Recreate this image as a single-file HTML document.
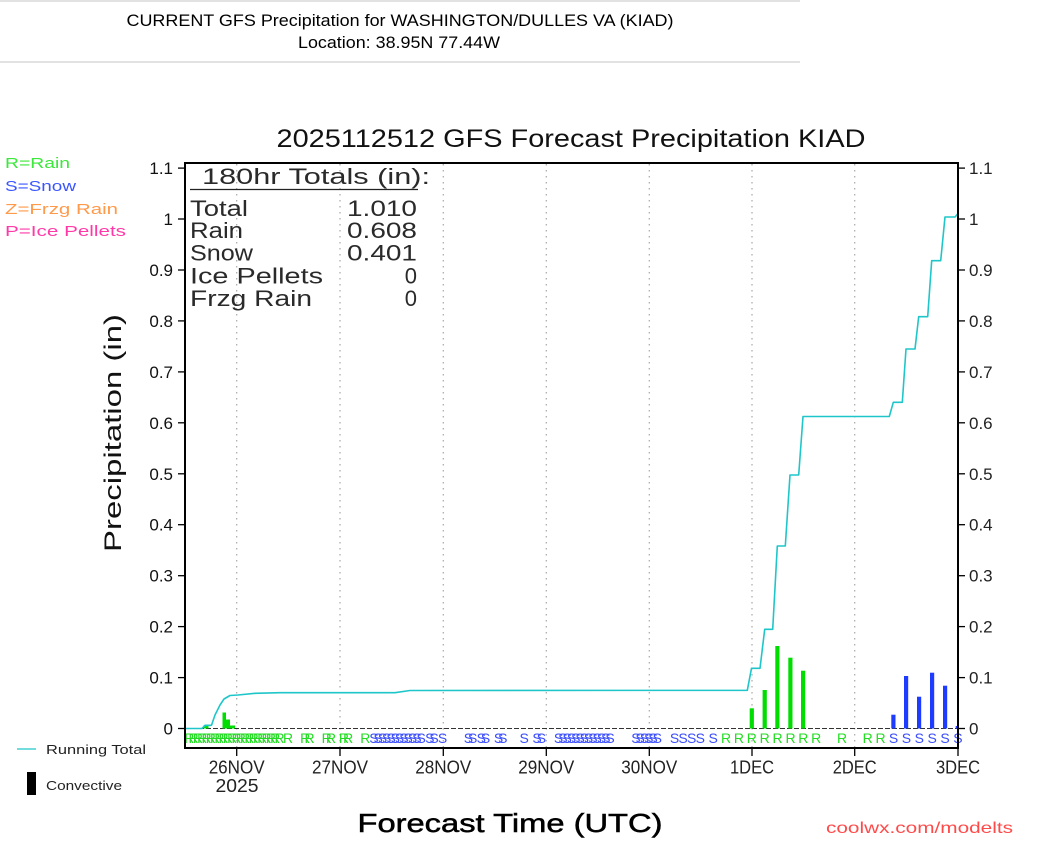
<!DOCTYPE html>
<html><head><meta charset="utf-8"><style>
html,body{margin:0;padding:0;background:#fff;}
svg{display:block;}
</style></head><body>
<svg width="1042" height="855" viewBox="0 0 1042 855" xmlns="http://www.w3.org/2000/svg" font-family="Liberation Sans, DejaVu Sans, sans-serif">
<rect x="0" y="0" width="1042" height="855" fill="#fff"/>
<!-- header -->
<rect x="0" y="0" width="800" height="2" fill="#e2e2e2"/>
<rect x="0" y="61" width="800" height="2" fill="#e2e2e2"/>
<text x="400" y="26" font-size="17" text-anchor="middle" fill="#000" textLength="547" lengthAdjust="spacingAndGlyphs">CURRENT GFS Precipitation for WASHINGTON/DULLES VA (KIAD)</text>
<text x="399" y="48" font-size="17" text-anchor="middle" fill="#000" textLength="202" lengthAdjust="spacingAndGlyphs">Location: 38.95N 77.44W</text>

<!-- chart title -->
<text x="571" y="147" font-size="25" text-anchor="middle" fill="#111" textLength="589" lengthAdjust="spacingAndGlyphs">2025112512 GFS Forecast Precipitation KIAD</text>

<!-- left legend -->
<text x="5" y="168" font-size="15" fill="#3be83b" textLength="65" lengthAdjust="spacingAndGlyphs">R=Rain</text>
<text x="5" y="191" font-size="15" fill="#3a55ff" textLength="71" lengthAdjust="spacingAndGlyphs">S=Snow</text>
<text x="5" y="214" font-size="15" fill="#ff9a4a" textLength="113" lengthAdjust="spacingAndGlyphs">Z=Frzg Rain</text>
<text x="5" y="236" font-size="15" fill="#ff3aa8" textLength="121" lengthAdjust="spacingAndGlyphs">P=Ice Pellets</text>

<!-- gridlines -->
<g stroke="#a8a8a8" stroke-width="1.2" stroke-dasharray="1.5,4.5">
<line x1="236.7" y1="164" x2="236.7" y2="747"/>
<line x1="340" y1="164" x2="340" y2="747"/>
<line x1="443.3" y1="164" x2="443.3" y2="747"/>
<line x1="546.3" y1="164" x2="546.3" y2="747"/>
<line x1="649.3" y1="164" x2="649.3" y2="747"/>
<line x1="752" y1="164" x2="752" y2="747"/>
<line x1="854.7" y1="164" x2="854.7" y2="747"/>
</g>

<!-- totals box -->
<g fill="#2a2a2a">
<text x="202" y="184" font-size="22" textLength="228" lengthAdjust="spacingAndGlyphs">180hr Totals (in):</text>
<line x1="190" y1="189.5" x2="418" y2="189.5" stroke="#222" stroke-width="1.2"/>
<text x="190" y="216" font-size="22" textLength="58" lengthAdjust="spacingAndGlyphs">Total</text>
<text x="190" y="238" font-size="22" textLength="53" lengthAdjust="spacingAndGlyphs">Rain</text>
<text x="190" y="260.5" font-size="22" textLength="63" lengthAdjust="spacingAndGlyphs">Snow</text>
<text x="190" y="283.5" font-size="22" textLength="133" lengthAdjust="spacingAndGlyphs">Ice Pellets</text>
<text x="190" y="306" font-size="22" textLength="122" lengthAdjust="spacingAndGlyphs">Frzg Rain</text>
<text x="417" y="216" font-size="22" text-anchor="end" textLength="70" lengthAdjust="spacingAndGlyphs">1.010</text>
<text x="417" y="238" font-size="22" text-anchor="end" textLength="70" lengthAdjust="spacingAndGlyphs">0.608</text>
<text x="417" y="260.5" font-size="22" text-anchor="end" textLength="70" lengthAdjust="spacingAndGlyphs">0.401</text>
<text x="417" y="283.5" font-size="22" text-anchor="end">0</text>
<text x="417" y="306" font-size="22" text-anchor="end">0</text>
</g>

<!-- zero line -->
<line x1="185" y1="728.5" x2="958" y2="728.5" stroke="#333" stroke-width="1" stroke-dasharray="5,2"/>

<!-- bars -->
<g fill="#00dd00">
<rect x="203.5" y="725.3" width="5" height="3.2"/>
<rect x="222.5" y="712.5" width="3.5" height="16"/>
<rect x="226" y="719.5" width="4" height="9"/>
<rect x="230" y="725.5" width="5" height="3"/>
<rect x="749.7" y="708.3" width="4.2" height="20.2"/>
<rect x="762.6" y="690" width="4.2" height="38.5"/>
<rect x="775.3" y="646" width="4.2" height="82.5"/>
<rect x="788.3" y="657.7" width="4.2" height="70.8"/>
<rect x="801" y="670.7" width="4.2" height="57.8"/>
</g>
<g fill="#1e3cff">
<rect x="891.3" y="714.7" width="4.2" height="13.8"/>
<rect x="904" y="676" width="4.2" height="52.5"/>
<rect x="917" y="696.7" width="4.2" height="31.8"/>
<rect x="930" y="672.7" width="4.2" height="55.8"/>
<rect x="943" y="685.7" width="4.2" height="42.8"/>
<rect x="955.7" y="726" width="2.3" height="2.5"/>
</g>

<!-- running total -->
<polyline fill="none" stroke="#1fc6c9" stroke-width="1.6" stroke-linejoin="round" points="185,728.5 202,728.5 205,725.3 211.5,725.3 215,715 220,705 224,699 230,695.5 238,695 255,693.3 280,692.7 395,692.7 410,690.5 747.3,690.3 751.5,668.3 760,668.3 764.7,629.3 772.7,629.3 777.3,546 785.3,546 790,475 798.7,475 803,416.5 889.3,416.5 893.3,402.3 902.3,402.3 906,349 915,349 918.7,316.7 927.7,316.7 931.7,260.7 940.7,260.7 945,217 955,217 958,213.5"/>

<!-- precip type letters -->
<text y="743" font-size="14" fill="#22dd22" text-anchor="middle" x="189.3 193.6 197.9 202.2 206.5 210.8 215.1 219.4 223.6 227.9 232.2 236.5 240.8 245.1 249.4 253.7 258.0 262.3 266.6 270.9 275.2 279.5 288.1 305.2 309.5 326.7 331.0 343.9 348.2 365.3">RRRRRRRRRRRRRRRRRRRRRRRRRRRRRR</text>
<text y="743" font-size="14" fill="#3a4dff" text-anchor="middle" x="373.9 378.2 382.5 386.7 391.0 395.3 399.6 403.9 408.2 412.5 416.9 421.2 429.8 434.1 442.6 468.4 472.7 481.3 485.6 498.5 502.8 524.2 537.1 541.4 558.6 562.9 567.2 571.5 575.8 580.0 584.3 588.6 592.9 597.2 601.5 605.8 610.1 635.9 640.2 644.5 648.8 653.0 657.3 674.5 683.1 691.7 700.3 713.2">SSSSSSSSSSSSSSSSSSSSSSSSSSSSSSSSSSSSSSSSSSSSSSSS</text>
<text y="743" font-size="14" fill="#22dd22" text-anchor="middle" x="726.0 738.9 751.8 764.7 777.6 790.5 803.3 816.2 842.0 867.7 880.6">RRRRRRRRRRR</text>
<text y="743" font-size="14" fill="#3a4dff" text-anchor="middle" x="893.5 906.4 919.3 932.2 945.0 957.9">SSSSSS</text>

<!-- frame -->
<rect x="185" y="163" width="773" height="585" fill="none" stroke="#000" stroke-width="2"/>

<!-- left ticks -->
<g stroke="#000" stroke-width="1.3">
<line x1="178" y1="728.5" x2="185" y2="728.5"/><line x1="178" y1="677.6" x2="185" y2="677.6"/>
<line x1="178" y1="626.6" x2="185" y2="626.6"/><line x1="178" y1="575.7" x2="185" y2="575.7"/>
<line x1="178" y1="524.7" x2="185" y2="524.7"/><line x1="178" y1="473.8" x2="185" y2="473.8"/>
<line x1="178" y1="422.8" x2="185" y2="422.8"/><line x1="178" y1="371.9" x2="185" y2="371.9"/>
<line x1="178" y1="320.9" x2="185" y2="320.9"/><line x1="178" y1="270" x2="185" y2="270"/>
<line x1="178" y1="219" x2="185" y2="219"/><line x1="178" y1="168.1" x2="185" y2="168.1"/>
<line x1="958" y1="728.5" x2="965" y2="728.5"/><line x1="958" y1="677.6" x2="965" y2="677.6"/>
<line x1="958" y1="626.6" x2="965" y2="626.6"/><line x1="958" y1="575.7" x2="965" y2="575.7"/>
<line x1="958" y1="524.7" x2="965" y2="524.7"/><line x1="958" y1="473.8" x2="965" y2="473.8"/>
<line x1="958" y1="422.8" x2="965" y2="422.8"/><line x1="958" y1="371.9" x2="965" y2="371.9"/>
<line x1="958" y1="320.9" x2="965" y2="320.9"/><line x1="958" y1="270" x2="965" y2="270"/>
<line x1="958" y1="219" x2="965" y2="219"/><line x1="958" y1="168.1" x2="965" y2="168.1"/>
<line x1="236.7" y1="748" x2="236.7" y2="756"/><line x1="340" y1="748" x2="340" y2="756"/>
<line x1="443.3" y1="748" x2="443.3" y2="756"/><line x1="546.3" y1="748" x2="546.3" y2="756"/>
<line x1="649.3" y1="748" x2="649.3" y2="756"/><line x1="752" y1="748" x2="752" y2="756"/>
<line x1="854.7" y1="748" x2="854.7" y2="756"/><line x1="958" y1="748" x2="958" y2="756"/>
</g>

<!-- left labels -->
<g font-size="17" fill="#111" text-anchor="end">
<text x="173" y="734.5">0</text><text x="173" y="683.6">0.1</text><text x="173" y="632.6">0.2</text>
<text x="173" y="581.7">0.3</text><text x="173" y="530.7">0.4</text><text x="173" y="479.8">0.5</text>
<text x="173" y="428.8">0.6</text><text x="173" y="377.9">0.7</text><text x="173" y="326.9">0.8</text>
<text x="173" y="276">0.9</text><text x="173" y="225">1</text><text x="173" y="174.1">1.1</text>
</g>
<!-- right labels -->
<g font-size="17" fill="#222">
<text x="969" y="734.5">0</text><text x="969" y="683.6">0.1</text><text x="969" y="632.6">0.2</text>
<text x="969" y="581.7">0.3</text><text x="969" y="530.7">0.4</text><text x="969" y="479.8">0.5</text>
<text x="969" y="428.8">0.6</text><text x="969" y="377.9">0.7</text><text x="969" y="326.9">0.8</text>
<text x="969" y="276">0.9</text><text x="969" y="225">1</text><text x="969" y="174.1">1.1</text>
</g>

<!-- x labels -->
<g font-size="18" fill="#222" text-anchor="middle">
<text x="236.7" y="773.5" textLength="56" lengthAdjust="spacingAndGlyphs">26NOV</text>
<text x="237" y="792" textLength="43" lengthAdjust="spacingAndGlyphs">2025</text>
<text x="340" y="773.5" textLength="56" lengthAdjust="spacingAndGlyphs">27NOV</text>
<text x="443.3" y="773.5" textLength="56" lengthAdjust="spacingAndGlyphs">28NOV</text>
<text x="546.3" y="773.5" textLength="56" lengthAdjust="spacingAndGlyphs">29NOV</text>
<text x="649.3" y="773.5" textLength="56" lengthAdjust="spacingAndGlyphs">30NOV</text>
<text x="752" y="773.5" textLength="44" lengthAdjust="spacingAndGlyphs">1DEC</text>
<text x="854.7" y="773.5" textLength="44" lengthAdjust="spacingAndGlyphs">2DEC</text>
<text x="958" y="773.5" textLength="44" lengthAdjust="spacingAndGlyphs">3DEC</text>
</g>

<!-- axis titles -->
<text transform="translate(121,433) rotate(-90)" font-size="24" fill="#111" text-anchor="middle" textLength="238" lengthAdjust="spacingAndGlyphs">Precipitation (in)</text>
<text x="510" y="832" font-size="26" fill="#000" stroke="#000" stroke-width="0.5" text-anchor="middle" textLength="305" lengthAdjust="spacingAndGlyphs">Forecast Time (UTC)</text>
<text x="826" y="833" font-size="16" fill="#ff4a4a" textLength="187" lengthAdjust="spacingAndGlyphs">coolwx.com/modelts</text>

<!-- bottom legend -->
<line x1="17" y1="749" x2="36" y2="749" stroke="#1fc6c9" stroke-width="1.2"/>
<text x="46" y="754" font-size="13" fill="#222" textLength="100" lengthAdjust="spacingAndGlyphs">Running Total</text>
<rect x="27" y="772" width="9" height="23" fill="#000"/>
<text x="46" y="790" font-size="13" fill="#222" textLength="76" lengthAdjust="spacingAndGlyphs">Convective</text>
</svg>
</body></html>
